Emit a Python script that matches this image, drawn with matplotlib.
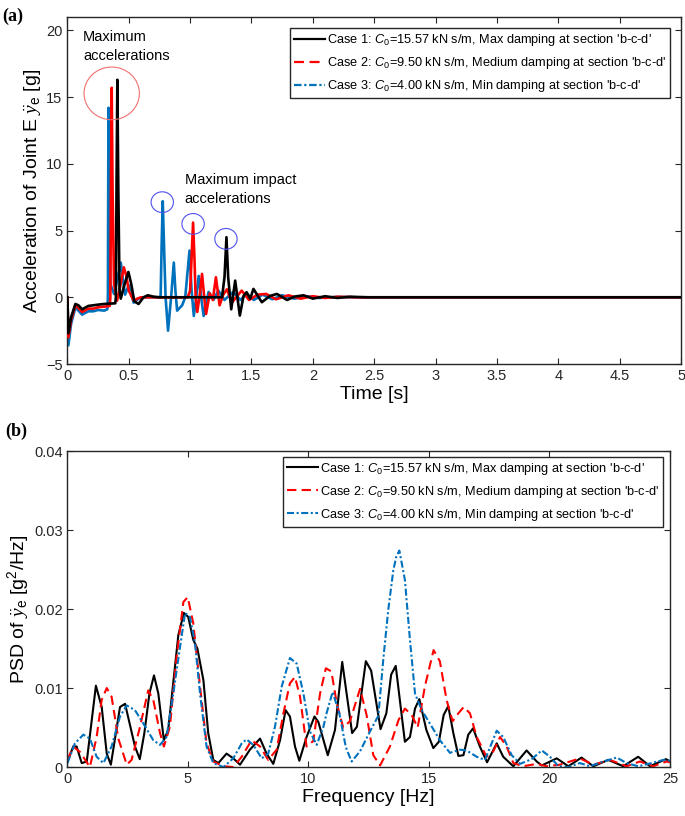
import matplotlib
matplotlib.use("Agg")
import matplotlib.pyplot as plt
from matplotlib.lines import Line2D
from matplotlib.patches import Ellipse
from matplotlib.ticker import FuncFormatter

plt.rcParams["font.family"] = ["Liberation Sans", "DejaVu Sans"]
plt.rcParams["mathtext.fontset"] = "custom"
plt.rcParams["mathtext.rm"] = "Liberation Sans"
plt.rcParams["mathtext.it"] = "Liberation Sans:italic"
plt.rcParams["mathtext.cal"] = "Liberation Serif:italic"

# ---- panel (a): acceleration time history ----
t_case1 = [0, 0.008, 0.03, 0.065, 0.09, 0.12, 0.17, 0.21, 0.25, 0.30, 0.39, 0.395, 0.40, 0.407, 0.415,
           0.425, 0.435, 0.46, 0.497, 0.52, 0.545, 0.58, 0.62, 0.655, 0.70, 0.75, 1.26, 1.28, 1.296, 1.31,
           1.335, 1.367, 1.405, 1.435, 1.46, 1.49, 1.516, 1.584, 1.65, 1.707, 1.79, 1.85, 1.924, 2.0, 2.1,
           2.2, 2.3, 2.45, 5.0]
a_case1 = [0, -2.7, -1.5, -0.5, -0.6, -0.9, -0.65, -0.6, -0.55, -0.5, -0.45, 0, 8, 16.3, 8,
           0.5, -0.1, 0.8, 1.9, 1.0, -0.3, -0.5, 0.0, 0.15, 0.05, 0.0, 0.0, 1.5, 4.5, 1.5,
           -0.9, 1.25, -1.37, 0.1, 0.38, -0.1, 0.63, -0.37, 0.1, 0.25, -0.2, 0.05, 0.15, -0.1, 0.08,
           -0.05, 0.04, 0.0, 0.0]

t_case2 = [0, 0.008, 0.03, 0.065, 0.09, 0.12, 0.17, 0.21, 0.25, 0.30, 0.345, 0.35, 0.355, 0.361, 0.368,
           0.38, 0.405, 0.43, 0.46, 0.48, 0.50, 0.54, 0.57, 0.60, 0.98, 1.0, 1.012, 1.024, 1.035, 1.045,
           1.058, 1.08, 1.097, 1.115, 1.13, 1.16, 1.185, 1.21, 1.24, 1.27, 1.30, 1.34, 1.42, 1.48, 1.55,
           1.62, 1.70, 1.80, 1.90, 2.0, 2.1, 2.2, 2.35, 5.0]
a_case2 = [0, -3.0, -1.7, -0.6, -0.8, -1.1, -0.85, -0.85, -0.75, -0.7, -0.65, 0, 8, 15.7, 8,
           1.0, -0.25, 0.8, 2.25, 1.6, 0.5, -0.25, -0.1, 0.0, 0.0, 0.5, 3.0, 5.6, 3.0, 0.0,
           -1.1, 0.3, 1.75, 0.0, -1.25, 0.3, -0.2, 1.5, -0.6, 0.2, 0.6, -0.4, 0.5, -0.2, 0.2,
           0.25, -0.15, 0.15, -0.1, 0.08, -0.05, 0.04, 0.0, 0.0]

t_case3 = [0, 0.008, 0.03, 0.065, 0.09, 0.12, 0.17, 0.21, 0.25, 0.30, 0.325, 0.33, 0.332, 0.335, 0.34,
           0.35, 0.38, 0.41, 0.435, 0.455, 0.47, 0.50, 0.54, 0.58, 0.62, 0.755, 0.76, 0.768, 0.777, 0.79,
           0.80, 0.82, 0.845, 0.867, 0.88, 0.894, 0.935, 0.96, 0.995, 1.012, 1.03, 1.05, 1.07, 1.09, 1.11,
           1.15, 1.19, 1.23, 1.28, 1.35, 1.41, 1.46, 1.52, 1.59, 1.67, 1.75, 1.85, 1.95, 2.05, 2.2,
           2.35, 5.0]
a_case3 = [0, -3.6, -2.0, -0.75, -1.0, -1.3, -1.05, -1.05, -0.95, -1.0, -0.9, 0, 7, 14.2, 7,
           1.0, 0.25, 1.5, 2.6, 1.2, 0.2, 0.9, -0.4, -0.1, 0.0, 0.0, 0.2, 4.0, 7.2, 3.0,
           0.0, -2.5, 0.0, 2.6, 0.5, -1.0, -0.6, 0.0, 3.5, 0.5, -1.4, 0.0, 1.6, 0.0, -1.4,
           0.4, -0.2, 0.5, -0.2, 0.4, -0.2, 0.25, -0.2, 0.2, -0.15, 0.15, -0.1, 0.08, -0.05, 0.03,
           0.0, 0.0]

# ---- panel (b): PSD ----
f_case1 = [0, 0.24, 0.38, 0.59, 0.8, 1.18, 1.42, 1.63, 1.8, 2.18, 2.39, 2.8, 3.0, 3.19, 3.4, 3.59, 3.77,
           4.0, 4.18, 4.6, 4.83, 5.01, 5.22, 5.39, 5.64, 5.84, 6.05, 6.26, 6.6, 6.88, 7.16, 7.57, 7.99,
           8.26, 8.54, 8.82, 9.05, 9.23, 9.44, 9.62, 9.92, 10.25, 10.41, 10.8, 11.1, 11.4, 11.81, 12.01,
           12.38, 12.6, 12.99, 13.23, 13.43, 13.62, 14.0, 14.21, 14.42, 14.6, 14.89, 15.18, 15.41, 15.61,
           15.8, 16.01, 16.22, 16.43, 16.63, 16.83, 17.11, 17.41, 17.81, 18.08, 18.5, 19.05, 19.47, 19.68,
           20.3, 20.78, 21.33, 21.82, 22.44, 23.06, 23.68, 24.17, 24.83, 25.0]
p_case1 = [0.0007, 0.0026, 0.0026, 0.0005, 0.0007, 0.0103, 0.0076, 0.0017, 0.0003, 0.0076, 0.008,
           0.0026, 0.001, 0.0043, 0.0093, 0.0116, 0.0093, 0.0034, 0.0047, 0.0167, 0.0195, 0.019,
           0.0161, 0.015, 0.011, 0.0043, 0.0009, 0.0005, 0.0017, 0.0011, 0.0003, 0.0022, 0.0036,
           0.0017, 0.0004, 0.0034, 0.0072, 0.0064, 0.0026, 0.0008, 0.0038, 0.0064, 0.0057, 0.0015,
           0.0047, 0.0133, 0.0043, 0.0051, 0.0134, 0.0122, 0.0048, 0.0068, 0.0117, 0.0128, 0.0032,
           0.0038, 0.0074, 0.0086, 0.0047, 0.0024, 0.0032, 0.0066, 0.0077, 0.0043, 0.0014, 0.0015,
           0.0041, 0.0049, 0.0026, 0.0006, 0.003, 0.0013, 0.0001, 0.0021, 0.0007, 0.0002, 0.0011,
           0.0001, 0.0012, 0.0001, 0.0009, 0.0001, 0.0013, 0.0001, 0.001, 0.0007]

f_case2 = [0, 0.24, 0.52, 0.93, 1.21, 1.42, 1.63, 1.83, 2.11, 2.46, 2.66, 3.01, 3.35, 3.56, 3.84, 4.0,
           4.25, 4.53, 4.81, 4.99, 5.22, 5.5, 5.77, 6.05, 6.47, 6.88, 7.23, 7.64, 7.99, 8.33, 8.68, 8.96,
           9.23, 9.44, 9.65, 9.92, 10.2, 10.48, 10.72, 10.95, 11.17, 11.44, 11.72, 12.14, 12.41, 12.69,
           12.97, 13.38, 13.73, 14.0, 14.28, 14.53, 14.83, 15.19, 15.45, 15.73, 15.98, 16.22, 16.44, 16.7,
           16.98, 17.39, 17.67, 17.95, 18.22, 18.5, 18.91, 19.47, 19.88, 20.44, 21.26, 21.82, 22.51,
           23.2, 23.75, 24.3, 24.86, 25.0]
p_case2 = [0.0009, 0.0026, 0.0019, 0.0, 0.0038, 0.0085, 0.01, 0.0089, 0.0036, 0.0003, 0.0009, 0.0051,
           0.0097, 0.0085, 0.0043, 0.0026, 0.0051, 0.014, 0.0209, 0.0215, 0.0182, 0.0102, 0.003,
           0.0007, 0.0001, 0.0, 0.0013, 0.0034, 0.0026, 0.0009, 0.0022, 0.0068, 0.0106, 0.0114,
           0.0089, 0.0026, 0.0033, 0.0093, 0.0125, 0.0121, 0.0081, 0.005, 0.0058, 0.0099, 0.0066,
           0.0015, 0.0002, 0.0026, 0.0059, 0.0074, 0.0066, 0.005, 0.0102, 0.0148, 0.0134, 0.0085,
           0.0058, 0.0068, 0.0076, 0.0068, 0.0038, 0.0013, 0.002, 0.0038, 0.0026, 0.0005, 0.0001,
           0.0004, 0.0001, 0.0003, 0.0011, 0.0003, 0.0009, 0.0001, 0.0007, 0.0001, 0.0007, 0.0006]

f_case3 = [0, 0.31, 0.66, 0.93, 1.21, 1.49, 1.83, 2.18, 2.46, 2.8, 3.15, 3.56, 3.84, 4.11, 4.39, 4.67,
           4.88, 5.08, 5.29, 5.5, 5.77, 6.05, 6.47, 6.88, 7.23, 7.43, 7.71, 8.06, 8.33, 8.61, 8.89, 9.23,
           9.51, 9.79, 10.06, 10.34, 10.62, 10.75, 11.0, 11.28, 11.55, 11.79, 12.14, 12.55, 12.9, 13.1,
           13.31, 13.52, 13.64, 13.77, 14.0, 14.21, 14.42, 14.7, 15.04, 15.45, 15.87, 16.29, 16.56,
           16.98, 17.32, 17.6, 17.81, 18.08, 18.43, 18.78, 19.26, 19.68, 20.02, 20.37, 20.78, 21.26,
           21.68, 22.23, 22.79, 23.2, 23.68, 24.24, 24.72, 25.0]
p_case3 = [0.0005, 0.003, 0.0041, 0.0036, 0.0013, 0.0005, 0.0026, 0.0064, 0.0078, 0.0072, 0.0055,
           0.0034, 0.0028, 0.0038, 0.0093, 0.0152, 0.0195, 0.019, 0.0157, 0.0093, 0.0026, 0.0005,
           0.0, 0.0011, 0.003, 0.0035, 0.0028, 0.0011, 0.0017, 0.0051, 0.0102, 0.0138, 0.0131,
           0.0093, 0.0045, 0.0028, 0.0051, 0.0068, 0.0095, 0.0068, 0.0025, 0.0007, 0.002, 0.0045,
           0.0065, 0.0135, 0.0199, 0.0249, 0.0266, 0.0274, 0.0237, 0.0161, 0.0093, 0.0072, 0.0055,
           0.0034, 0.0018, 0.0022, 0.0021, 0.0013, 0.0009, 0.003, 0.0046, 0.0038, 0.0015, 0.0004,
           0.001, 0.0021, 0.0013, 0.0001, 0.0, 0.0005, 0.0001, 0.0007, 0.0012, 0.0005, 0.0001,
           0.0005, 0.0009, 0.0008]

labels = [
    r"Case 1: $C_0$=15.57 kN s/m, Max damping at section 'b-c-d'",
    r"Case 2: $C_0$=9.50 kN s/m, Medium damping at section 'b-c-d'",
    r"Case 3: $C_0$=4.00 kN s/m, Min damping at section 'b-c-d'",
]
BLACK = "#000000"
RED = "#FF0000"
BLUE = "#0072BD"
RED_DASH = (0, (4.5, 2.5))
BLUE_DASHDOT = (0, (3.4, 1.2, 1.0, 1.2))

fig = plt.figure(figsize=(6.85, 8.16), dpi=100)
ax_a = fig.add_axes([0.0984, 0.5539, 0.8958, 0.4252])
ax_b = fig.add_axes([0.0985, 0.0600, 0.8796, 0.3873])


def style_axes(ax):
    ax.tick_params(direction="in", length=4, width=0.8, top=True, right=True, labelsize=10.5,
                   colors="#262626")
    for sp in ax.spines.values():
        sp.set_linewidth(1.0)
        sp.set_color("#262626")


# panel (a)
ax_a.plot(t_case3, a_case3, color=BLUE, lw=1.9, zorder=2)
ax_a.plot(t_case2, a_case2, color=RED, lw=1.9, zorder=3)
ax_a.plot(t_case1, a_case1, color=BLACK, lw=1.9, zorder=4)
ax_a.set_xlim(0, 5)
ax_a.set_ylim(-5, 21)
ax_a.set_xticks([0, 0.5, 1, 1.5, 2, 2.5, 3, 3.5, 4, 4.5, 5])
ax_a.set_yticks([-5, 0, 5, 10, 15, 20])
ax_a.xaxis.set_major_formatter(FuncFormatter(lambda v, p: "%g" % v))
style_axes(ax_a)
ax_a.set_xlabel("Time [s]", fontsize=14, labelpad=2)
ax_a.set_ylabel(r"Acceleration of Joint E $\ddot{\mathcal{y}}_{\rm e}$ [g]", fontsize=14, labelpad=2)

ax_a.add_patch(Ellipse((0.361, 15.28), 0.451, 3.95, fill=False, edgecolor="#F07070", lw=0.8, zorder=5))
for cx, cy in [(0.773, 7.13), (1.024, 5.5), (1.292, 4.38)]:
    ax_a.add_patch(Ellipse((cx, cy), 0.182, 1.55, fill=False, edgecolor="#5050F0", lw=0.8, zorder=5))
ax_a.text(0.127, 20.0, "Maximum\naccelerations", fontsize=10.5, va="top", ha="left", linespacing=1.4)
ax_a.text(0.957, 9.3, "Maximum impact\naccelerations", fontsize=10.5, va="top", ha="left", linespacing=1.4)

handles = [
    Line2D([], [], color=BLACK, lw=1.6, linestyle="-"),
    Line2D([], [], color=RED, lw=1.6, linestyle=RED_DASH),
    Line2D([], [], color=BLUE, lw=1.6, linestyle=BLUE_DASHDOT),
]
leg_a = ax_a.legend(handles, labels, loc="upper right", bbox_to_anchor=(0.982, 0.968), borderaxespad=0,
                    fontsize=9.2, handlelength=2.4, handletextpad=0.15, labelspacing=0.55, borderpad=0.3,
                    fancybox=False, framealpha=1, edgecolor="#262626")
leg_a.get_frame().set_linewidth(1.0)

# panel (b)
ax_b.plot(f_case1, p_case1, color=BLACK, lw=1.5, linestyle="-", label=labels[0])
ax_b.plot(f_case2, p_case2, color=RED, lw=1.5, linestyle=RED_DASH, label=labels[1])
ax_b.plot(f_case3, p_case3, color=BLUE, lw=1.5, linestyle=BLUE_DASHDOT, label=labels[2])
ax_b.set_xlim(0, 25)
ax_b.set_ylim(0, 0.04)
ax_b.set_xticks([0, 5, 10, 15, 20, 25])
ax_b.set_yticks([0, 0.01, 0.02, 0.03, 0.04])
ax_b.yaxis.set_major_formatter(FuncFormatter(lambda v, p: "%g" % v))
style_axes(ax_b)
ax_b.set_xlabel("Frequency [Hz]", fontsize=14, labelpad=2)
ax_b.set_ylabel(r"PSD of $\ddot{\mathcal{y}}_{\rm e}$ [g$^2$/Hz]", fontsize=14, labelpad=2)
leg_b = ax_b.legend(loc="upper right", bbox_to_anchor=(0.988, 0.981), borderaxespad=0,
                    fontsize=9.2, handlelength=2.4, handletextpad=0.15, labelspacing=0.55, borderpad=0.3,
                    fancybox=False, framealpha=1, edgecolor="#262626")
leg_b.get_frame().set_linewidth(1.0)

fig.text(0.004, 0.99, "(a)", fontsize=13, fontweight="bold", family="Liberation Serif", va="top")
fig.text(0.008, 0.482, "(b)", fontsize=13, fontweight="bold", family="Liberation Serif", va="top")

fig.savefig("out.png", dpi=100)
